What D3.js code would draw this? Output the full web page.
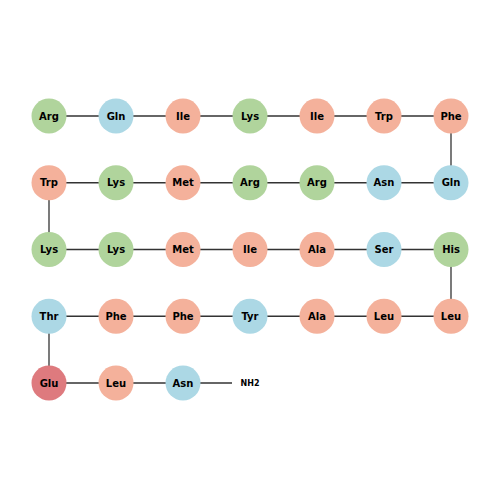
<!DOCTYPE html><html><head><meta charset="utf-8"><script src="https://cdn.jsdelivr.net/npm/d3@7"></script>
<style>body{margin:0;background:#fff}</style></head><body><svg id="c" width="500" height="500"></svg><script>
const residues=["Arg","Gln","Ile","Lys","Ile","Trp","Phe","Gln","Asn","Arg","Arg","Met","Lys","Trp","Lys","Lys","Met","Ile","Ala","Ser","His","Leu","Leu","Ala","Tyr","Phe","Phe","Thr","Glu","Leu","Asn"];
const types={Arg:"basic",Lys:"basic",His:"basic",Gln:"polar",Asn:"polar",Ser:"polar",Thr:"polar",Tyr:"polar",Glu:"acidic",Ile:"hydro",Trp:"hydro",Phe:"hydro",Met:"hydro",Ala:"hydro",Leu:"hydro"};
const colors={basic:"#b0d49c",polar:"#acd8e5",acidic:"#de7a7e",hydro:"#f4b19b"};
const perRow=7;
const svg=d3.select("#c");
const x=d3.scaleLinear().domain([0,6]).range([49,451]);
const y=d3.scaleLinear().domain([0,4]).range([116,383]);
const pos=residues.map((r,i)=>{const row=Math.floor(i/perRow),k=i%perRow;const col=row%2===0?k:perRow-1-k;return {r,x:x(col),y:y(row)};});
const last=pos[pos.length-1];
const nh2={x:x(3),y:last.y};
for(let i=0;i<pos.length-1;i++)svg.append("line").attr("x1",pos[i].x).attr("y1",pos[i].y).attr("x2",pos[i+1].x).attr("y2",pos[i+1].y).attr("stroke","#333").attr("stroke-width",1.3);
svg.append("line").attr("x1",last.x).attr("y1",last.y).attr("x2",nh2.x-18).attr("y2",nh2.y).attr("stroke","#333").attr("stroke-width",1.3);
const g=svg.selectAll("g.n").data(pos).join("g").attr("transform",d=>`translate(${d.x},${d.y})`);
g.append("circle").attr("r",17.5).attr("fill",d=>colors[types[d.r]]);
g.append("text").text(d=>d.r).attr("text-anchor","middle").attr("dy","0.36em").attr("font-family","DejaVu Sans").attr("font-weight","bold").attr("font-size",10);
svg.append("text").text("NH2").attr("x",nh2.x).attr("y",nh2.y).attr("dy","0.36em").attr("text-anchor","middle").attr("font-family","DejaVu Sans").attr("font-weight","bold").attr("font-size",8);
</script></body></html>
